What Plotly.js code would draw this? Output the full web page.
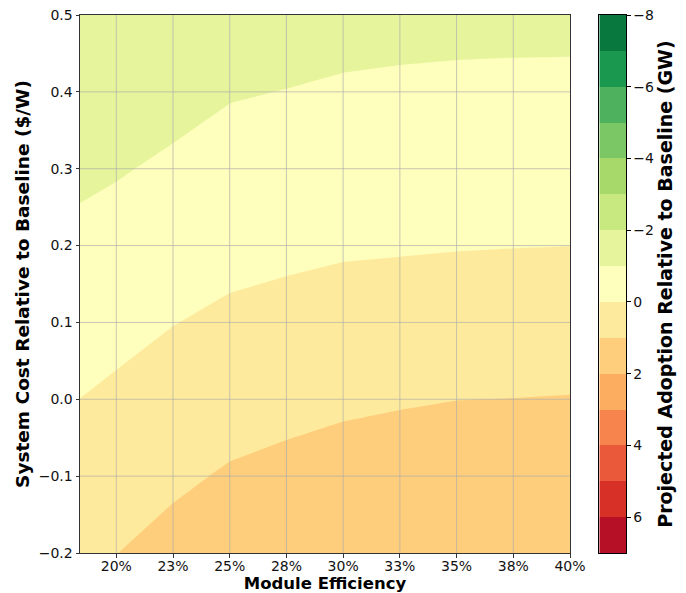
<!DOCTYPE html>
<html><head><meta charset="utf-8">
<script src="https://cdn.plot.ly/plotly-3.0.1.min.js"></script>
<style>html,body{margin:0;padding:0;background:#fff}#chart{width:686px;height:593px}</style>
</head><body><div id="chart"></div>
<script>
// Module efficiency (x) and system cost relative to baseline (y)
const efficiency = [0.184, 0.2, 0.225, 0.25, 0.275, 0.3, 0.325, 0.35, 0.375, 0.4];
const systemCost = [-0.2, -0.1, 0, 0.1, 0.2, 0.3, 0.4, 0.5];
// Projected adoption relative to baseline (GW): one row per system cost
const adoption = [
  [0.78, 0.99, 1.283, 1.551, 1.703, 1.838, 1.949, 1.96, 1.97, 1.98],
  [0.39, 0.568, 0.848, 1.088, 1.225, 1.348, 1.439, 1.50, 1.50, 1.52],
  [0.005, 0.156, 0.413, 0.625, 0.746, 0.858, 0.929, 0.992, 1.008, 1.031],
  [-0.39, -0.253, -0.021, 0.162, 0.268, 0.368, 0.418, 0.470, 0.492, 0.512],
  [-0.79, -0.661, -0.441, -0.26, -0.177, -0.10, -0.071, -0.040, -0.019, -0.005],
  [-1.17, -1.069, -0.861, -0.66, -0.578, -0.50, -0.466, -0.437, -0.420, -0.410],
  [-1.45, -1.477, -1.282, -1.06, -0.984, -0.90, -0.862, -0.835, -0.821, -0.815],
  [-1.70, -1.75, -1.60, -1.40, -1.38, -1.30, -1.257, -1.233, -1.223, -1.219]
];
// contour levels and band colours (RdYlGn reversed)
const levels = [-8, -7, -6, -5, -4, -3, -2, -1, 0, 1, 2, 3, 4, 5, 6, 7];
const bandColors = ['#09783f', '#1a9850', '#4db15d', '#7bc665', '#a6d96a', '#c8e880', '#e6f49c',
  '#fefebd', '#feea9c', '#fece7c', '#fdad60', '#f7834d', '#ea593a', '#d73027', '#b61026'];
// tick labels
const xTickVals = [0.2, 0.225, 0.25, 0.275, 0.3, 0.325, 0.35, 0.375, 0.4];
const xTickText = ['20%', '23%', '25%', '28%', '30%', '33%', '35%', '38%', '40%'];
const yTickVals = [-0.2, -0.1, 0, 0.1, 0.2, 0.3, 0.4, 0.5];
const yTickText = ['\u22120.2', '\u22120.1', '0.0', '0.1', '0.2', '0.3', '0.4', '0.5'];
const cbTickVals = [-8, -6, -4, -2, 0, 2, 4, 6];
const cbTickText = ['\u22128', '\u22126', '\u22124', '\u22122', '0', '2', '4', '6'];

function stepScale(colors, centers) {
  const s = [];
  colors.forEach((c, k) => {
    const lo = k === 0 ? 0 : (centers[k - 1] + centers[k]) / 2;
    const hi = k === colors.length - 1 ? 1 : (centers[k] + centers[k + 1]) / 2;
    s.push([lo, c], [hi, c]);
  });
  return s;
}
const nb = bandColors.length;
const contourScale = stepScale(bandColors, bandColors.map((c, k) => (k + 1) / (nb + 1)));
const heatScale = stepScale(bandColors, bandColors.map((c, k) => k / (nb - 1)));

const traces = [
  {
    type: 'contour', x: efficiency, y: systemCost, z: adoption,
    autocontour: false,
    contours: {start: levels[0], end: levels[levels.length - 1], size: 1, coloring: 'fill', showlines: false},
    line: {width: 0, smoothing: 0},
    colorscale: contourScale, showscale: false, hoverinfo: 'skip'
  },
  {
    type: 'heatmap', xaxis: 'x2', yaxis: 'y2',
    x: [0, 1], y: levels, z: bandColors.map((c, k) => [k]),
    zmin: 0, zmax: nb - 1, colorscale: heatScale, showscale: false, hoverinfo: 'skip'
  }
];

const gridColor = 'rgba(170,170,170,0.65)';
const shapes = [];
xTickVals.slice(0, -1).forEach(v => shapes.push({type: 'line', xref: 'x', yref: 'y domain', x0: v, x1: v, y0: 0, y1: 1, line: {color: gridColor, width: 1}, layer: 'above'}));
yTickVals.slice(1, -1).forEach(v => shapes.push({type: 'line', xref: 'x domain', yref: 'y', x0: 0, x1: 1, y0: v, y1: v, line: {color: gridColor, width: 1}, layer: 'above'}));

const frame = '#333';
const layout = {
  width: 686, height: 593,
  margin: {l: 80, r: 60, t: 15, b: 40},
  paper_bgcolor: '#fff', plot_bgcolor: '#fff',
  font: {family: 'DejaVu Sans', size: 14, color: '#111'},
  showlegend: false,
  shapes: shapes,
  xaxis: {
    domain: [0, 490 / 546], range: [efficiency[0], efficiency[efficiency.length - 1]],
    tickmode: 'array', tickvals: xTickVals, ticktext: xTickText,
    ticks: 'outside', ticklen: 3.5, tickcolor: frame, showgrid: false, zeroline: false,
    ticklabelstandoff: -3,
    showline: true, mirror: true, linecolor: frame, linewidth: 1, automargin: false,
    title: {text: 'Module Efficiency', font: {size: 16.5, weight: 'bold', color: '#000'}, standoff: 4}
  },
  yaxis: {
    range: [systemCost[0], systemCost[systemCost.length - 1]],
    tickmode: 'array', tickvals: yTickVals, ticktext: yTickText,
    ticks: 'outside', ticklen: 3.5, tickcolor: frame, showgrid: false, zeroline: false,
    showline: true, mirror: true, linecolor: frame, linewidth: 1, automargin: false,
    title: {text: 'System Cost Relative to Baseline ($/W)', font: {size: 18.5, weight: 'bold', color: '#000'}, standoff: 4}
  },
  xaxis2: {
    domain: [0.9511, 1], range: [0, 1], anchor: 'y2',
    showticklabels: false, ticks: '', showgrid: false, zeroline: false,
    showline: true, mirror: true, linecolor: '#000', linewidth: 1
  },
  yaxis2: {
    domain: [0, 1], range: [levels[levels.length - 1], levels[0]], anchor: 'x2', side: 'right',
    tickmode: 'array', tickvals: cbTickVals, ticktext: cbTickText,
    ticks: 'outside', ticklen: 3.5, tickcolor: '#000', showgrid: false, zeroline: false,
    showline: true, mirror: true, linecolor: '#000', linewidth: 1, automargin: false,
    title: {text: 'Projected Adoption Relative to Baseline (GW)', font: {size: 19, weight: 'bold', color: '#000'}, standoff: 5}
  }
};

Plotly.newPlot('chart', traces, layout, {displayModeBar: false, staticPlot: true});
</script>
</body></html>
